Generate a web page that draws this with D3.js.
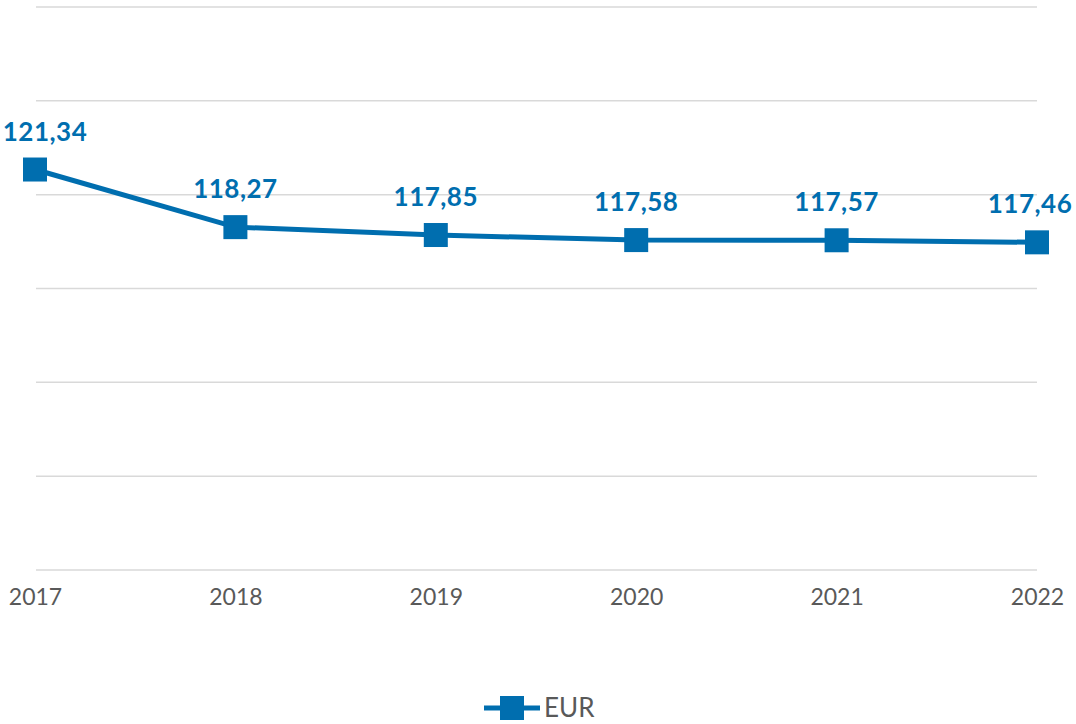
<!DOCTYPE html>
<html>
<head>
<meta charset="utf-8">
<script src="https://cdn.jsdelivr.net/npm/d3@7"></script>
<style>
  body { margin: 0; background: #fff; }
  svg { display: block; font-family: Lato, "Open Sans", sans-serif; }
</style>
</head>
<body>
<div id="chart"></div>
<script>
// data
var years = ["2017", "2018", "2019", "2020", "2021", "2022"];
var eur = [121.34, 118.27, 117.85, 117.58, 117.57, 117.46];
var yTicks = [100, 105, 110, 115, 120, 125, 130];
var seriesName = "EUR";

var W = 1076, H = 724;
var blue = "#006EAF";

var svg = d3.select("#chart").append("svg")
    .attr("width", W)
    .attr("height", H);

// scales
var x = d3.scalePoint().domain(years).range([35, 1037]);
var y = d3.scaleLinear().domain([100, 130]).range([570, 7]);

// gridlines
svg.append("g")
  .selectAll("line")
  .data(yTicks)
  .enter().append("line")
    .attr("x1", 36)
    .attr("x2", 1037)
    .attr("y1", function(d) { return y(d); })
    .attr("y2", function(d) { return y(d); })
    .attr("stroke", "#d9d9d9")
    .attr("stroke-width", 1.5);

// x axis labels
var xAxis = svg.append("g")
    .attr("transform", "translate(0," + 570 + ")")
    .call(d3.axisBottom(x).tickSize(0).tickPadding(19));
xAxis.select(".domain").remove();
xAxis.selectAll("text")
    .attr("fill", "#595959")
    .style("font-size", "23px")
    .style("font-family", "Lato, sans-serif");

var data = years.map(function(d, i) { return {year: d, value: eur[i]}; });

// line
svg.append("path")
    .datum(data)
    .attr("fill", "none")
    .attr("stroke", blue)
    .attr("stroke-width", 5)
    .attr("d", d3.line()
      .x(function(d) { return x(d.year); })
      .y(function(d) { return y(d.value); }));

// markers
svg.selectAll(".marker")
    .data(data)
  .enter().append("rect")
    .attr("class", "marker")
    .attr("x", function(d) { return x(d.year) - 12; })
    .attr("y", function(d) { return y(d.value) - 12; })
    .attr("width", 24)
    .attr("height", 24)
    .attr("fill", blue);

// value labels
var fmt = function(v) { return d3.format(".2f")(v).replace(".", ","); };
svg.selectAll(".vlabel")
    .data(data)
  .enter().append("text")
    .attr("class", "vlabel")
    .attr("x", function(d) { return Math.min(Math.max(x(d.year), 45), 1030); })
    .attr("y", function(d) { return y(d.value) - 29; })
    .attr("text-anchor", "middle")
    .attr("fill", blue)
    .style("font-size", "26px")
    .style("font-weight", "bold")
    .style("letter-spacing", "0.5px")
    .text(function(d) { return fmt(d.value); });

// legend
var lg = svg.append("g").attr("transform", "translate(512,708)");
lg.append("line")
    .attr("x1", -28).attr("x2", 28)
    .attr("stroke", blue)
    .attr("stroke-width", 5);
lg.append("rect")
    .attr("x", -12).attr("y", -12)
    .attr("width", 24).attr("height", 24)
    .attr("fill", blue);
lg.append("text")
    .attr("x", 32)
    .attr("y", 9)
    .attr("fill", "#595959")
    .style("font-size", "26px")
    .text(seriesName);
</script>
</body>
</html>
